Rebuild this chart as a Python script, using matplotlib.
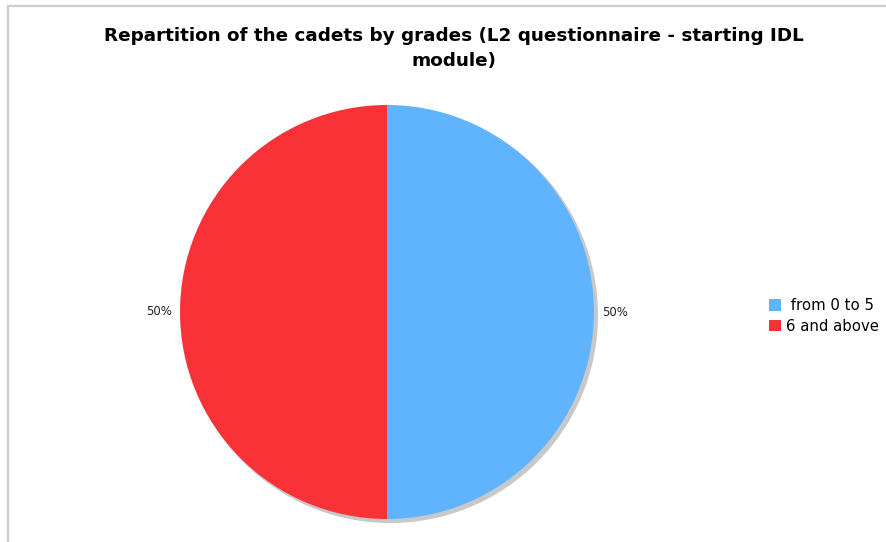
import matplotlib
matplotlib.use("Agg")
import matplotlib.pyplot as plt
from matplotlib.patches import Circle
from matplotlib.lines import Line2D

plt.rcParams['font.family'] = ['DejaVu Sans']

categories = [" from 0 to 5", "6 and above"]
values = [50, 50]
colors = ["#60b4fe", "#f93237"]
title = "Repartition of the cadets by grades (L2 questionnaire - starting IDL\nmodule)"

W, H = 887, 542
fig = plt.figure(figsize=(W / 100, H / 100), dpi=100)

# frame lines (left and top)
fig.add_artist(Line2D([8.5 / W, 8.5 / W], [0, 1 - 6 / H], color="#cccccc", lw=1.6))
fig.add_artist(Line2D([8.5 / W, 1], [1 - 6 / H, 1 - 6 / H], color="#cccccc", lw=1.6))

fig.text(454 / W, 1 - 48.5 / H, title, ha="center", va="center",
         fontsize=13.2, fontweight="bold", linespacing=1.5)

cx, cy, r = 387, 312, 207
pad = 1.1
ax = fig.add_axes([(cx - r * pad) / W, 1 - (cy + r * pad) / H,
                   2 * r * pad / W, 2 * r * pad / H])
ax.axis("off")

# shadow
ax.add_patch(Circle((0.016, -0.016), 1.0, color="#c8c8c8", zorder=0, clip_on=False))

total = sum(values)
pct = [f"{v / total * 100:.0f}%" for v in values]
wedges, texts = ax.pie(values, colors=colors, startangle=90, counterclock=False,
                       labels=pct, labeldistance=1.04, radius=1.0,
                       textprops={"fontsize": 8.5, "color": "#222222"},
                       wedgeprops={"linewidth": 0})
for w in wedges:
    w.set_zorder(1)
ax.set_xlim(-pad, pad)
ax.set_ylim(-pad, pad)
ax.set_aspect("equal")

leg = fig.legend(wedges, categories, loc="center left",
                 bbox_to_anchor=(756 / W, 1 - 316 / H), frameon=False,
                 fontsize=10.7, handlelength=0.8, handleheight=0.8,
                 handletextpad=0.3, labelspacing=0.4)

fig.savefig("out.png", dpi=100)
